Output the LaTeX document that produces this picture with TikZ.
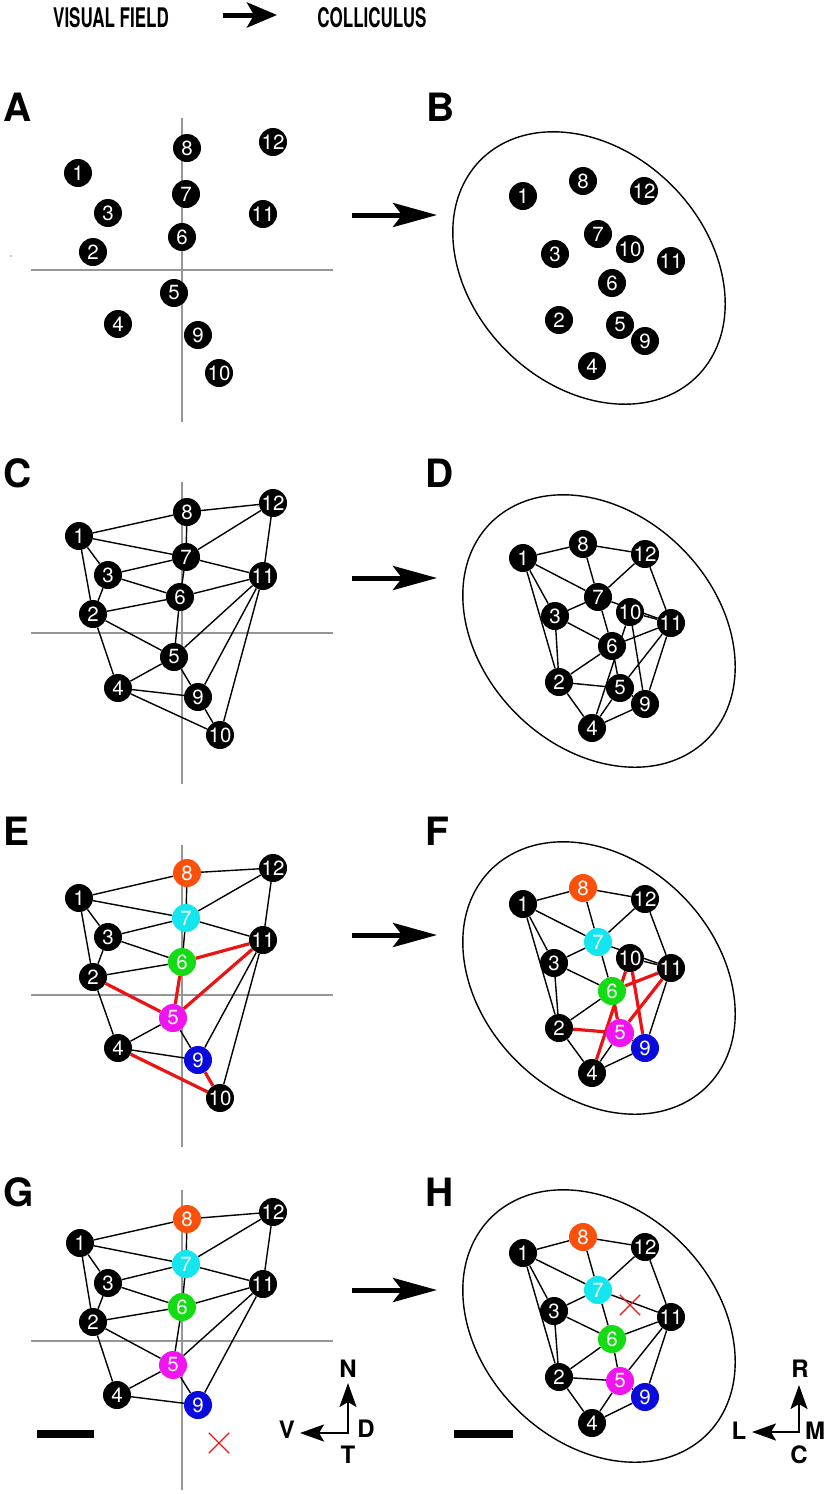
\documentclass[tikz,border=0pt]{standalone}
\usepackage{fontspec}
\usepackage{graphicx}
\setmainfont{TeX Gyre Heros}
\usetikzlibrary{arrows.meta,shapes.misc}
\definecolor{vorange}{RGB}{250,80,10}
\definecolor{vcyan}{RGB}{20,230,240}
\definecolor{vgreen}{RGB}{20,220,20}
\definecolor{vmag}{RGB}{240,20,240}
\definecolor{vblue}{RGB}{10,10,220}
\definecolor{vred}{RGB}{235,20,20}
\definecolor{axisgray}{RGB}{150,150,150}
\pgfdeclarelayer{bg}
\pgfsetlayers{bg,main}
\begin{document}
\begin{tikzpicture}[x=1pt,y=-1pt,
  dot/.style={circle,fill=black,minimum size=28pt,inner sep=0pt,text=white,font=\fontsize{20.5}{20.5}\selectfont},
  edge/.style={line width=1.4pt,black},
  redge/.style={line width=3.2pt,vred},
  axisline/.style={line width=2pt,axisgray},
  oval/.style={line width=1.4pt},
  panel/.style={font=\fontsize{39}{39}\selectfont\bfseries,anchor=base west,inner sep=0pt},
  titletext/.style={inner sep=0pt},
  bigarrow/.style={line width=5pt,-{Stealth[length=44pt,width=24pt,inset=9pt]}},
  titlearrow/.style={line width=5pt,-{Stealth[length=30pt,width=25pt,inset=7pt]}},
  comparrow/.style={line width=2.4pt,-{Stealth[length=24pt,width=17pt,inset=5pt]}},
  complab/.style={font=\fontsize{24}{24}\selectfont\bfseries,inner sep=0pt},
  xmark/.style={draw=vred,cross out,minimum size=19pt,inner sep=0pt,line width=1.3pt},
  scalebar/.style={line width=8pt}
]
\path[use as bounding box] (0,0) rectangle (826,1494);

% titles
\node[titletext] (tvf) at (111,18) {\scalebox{0.63}[1]{\fontsize{27}{27}\selectfont\bfseries VISUAL FIELD}};
\node[titletext] (tsc) at (372,18) {\scalebox{0.63}[1]{\fontsize{27}{27}\selectfont\bfseries COLLICULUS}};
\coordinate (ta0) at (223,15);
\coordinate (ta1) at (277,15);
\draw[titlearrow] (ta0) -- (ta1);

% panel letters
\node[panel] (lA) at (3,121) {A};
\node[panel] (lB) at (426,121) {B};
\node[panel] (lC) at (3,487) {C};
\node[panel] (lD) at (425,487) {D};
\node[panel] (lE) at (3,845) {E};
\node[panel] (lF) at (425,845) {F};
\node[panel] (lG) at (3,1206) {G};
\node[panel] (lH) at (425,1206) {H};

% axes
\begin{pgfonlayer}{bg}
\draw[axisline] (182,118) -- (182,422);
\draw[axisline] (31,270) -- (333,270);
\draw[axisline] (182,482) -- (182,784);
\draw[axisline] (31,633) -- (333,633);
\draw[axisline] (182,845) -- (182,1147);
\draw[axisline] (31,995) -- (333,995);
\draw[axisline] (182,1190) -- (182,1490);
\draw[axisline] (31,1341) -- (333,1341);
\end{pgfonlayer}
\fill[axisgray] (11,256) circle (0.8pt);

% ellipses
\draw[oval,rotate around={-45:(589,268)}] (589,268) ellipse [x radius=153pt,y radius=117pt];
\draw[oval,rotate around={-45:(599,631)}] (599,631) ellipse [x radius=153pt,y radius=117pt];
\draw[oval,rotate around={-45:(599,978)}] (599,978) ellipse [x radius=153pt,y radius=117pt];
\draw[oval,rotate around={-45:(599,1326)}] (599,1326) ellipse [x radius=153pt,y radius=117pt];

% panel A
\foreach \n/\x/\y in {1/78/173,2/93/252,3/108/213,4/118/324,5/174/293,6/182/237,7/186/194,8/187/148,9/198/335,10/219/373,11/263/214,12/273/142}
  \node[dot] (a\n) at (\x,\y) {\n};
% panel B
\foreach \n/\x/\y in {1/523/196,2/559/320,3/555/254,4/592/366,5/620/325,6/612/283,7/598/234,8/583/181,9/645/341,10/630/249,11/671/261,12/644/191}
  \node[dot] (b\n) at (\x,\y) {\n};
% panel C
\foreach \n/\x/\y in {1/79/536,2/93/614,3/108/575,4/118/688,5/174/657,6/180/597,7/186/557,8/187/512,9/198/697,10/220/735,11/263/576,12/273/503}
  \node[dot] (c\n) at (\x,\y) {\n};
% panel D
\foreach \n/\x/\y in {1/523/558,2/559/682,3/555/616,4/592/728,5/620/688,6/612/646,7/598/597,8/583/544,9/645/704,10/630/612,11/671/623,12/645/554}
  \node[dot] (d\n) at (\x,\y) {\n};
% panel E
\foreach \n/\x/\y/\c in {1/79/898/black,2/93/977/black,3/108/937/black,4/118/1048/black,5/173/1018/vmag,6/182/962/vgreen,7/186/918/vcyan,8/187/873/vorange,9/198/1060/vblue,10/220/1098/black,11/263/940/black,12/273/868/black}
  \node[dot,fill=\c] (e\n) at (\x,\y) {\n};
% panel F
\foreach \n/\x/\y/\c in {1/523/904/black,2/559/1028/black,3/554/963/black,4/592/1073/black,5/620/1033/vmag,6/612/991/vgreen,7/598/942/vcyan,8/583/888/vorange,9/645/1048/vblue,10/630/958/black,11/671/968/black,12/645/899/black}
  \node[dot,fill=\c] (f\n) at (\x,\y) {\n};
% panel G
\foreach \n/\x/\y/\c in {1/80/1243/black,2/93/1322/black,3/108/1283/black,4/117/1395/black,5/173/1365/vmag,6/182/1307/vgreen,7/186/1264/vcyan,8/187/1219/vorange,9/198/1405/vblue,11/263/1284/black,12/273/1212/black}
  \node[dot,fill=\c] (g\n) at (\x,\y) {\n};
% panel H
\foreach \n/\x/\y/\c in {1/523/1253/black,2/559/1377/black,3/554/1311/black,4/592/1423/black,5/620/1381/vmag,6/612/1339/vgreen,7/598/1290/vcyan,8/583/1237/vorange,9/645/1397/vblue,11/671/1317/black,12/645/1247/black}
  \node[dot,fill=\c] (h\n) at (\x,\y) {\n};

% edges
\begin{pgfonlayer}{bg}
\foreach \p/\q in {1/8,8/12,8/7,1/7,12/7,12/11,7/11,7/3,7/6,1/3,1/2,3/2,3/6,2/6,6/11,2/5,2/4,6/5,5/11,11/9,11/10,5/4,5/9,4/9,4/10,9/10}
  {\draw[edge] (c\p) -- (c\q); \draw[edge] (d\p) -- (d\q);}
\foreach \p/\q in {1/8,8/12,8/7,1/7,12/7,12/11,7/11,7/3,7/6,1/3,1/2,3/2,3/6,2/6,2/4,11/9,11/10,5/4,5/9,4/9}
  {\draw[edge] (e\p) -- (e\q); \draw[edge] (f\p) -- (f\q);}
\foreach \p/\q in {2/5,6/5,5/11,6/11,4/10,9/10}
  {\draw[redge] (e\p) -- (e\q); \draw[redge] (f\p) -- (f\q);}
\foreach \p/\q in {1/8,8/12,8/7,1/7,12/7,12/11,7/11,7/3,7/6,1/3,1/2,3/2,3/6,2/6,6/11,2/5,2/4,6/5,5/11,11/9,5/4,5/9,4/9}
  {\draw[edge] (g\p) -- (g\q); \draw[edge] (h\p) -- (h\q);}
\end{pgfonlayer}

% arrows between panels
\foreach \r/\y in {1/215,2/578,3/935,4/1290} {
  \coordinate (s\r) at (352,\y);
  \coordinate (t\r) at (437,\y);
  \draw[bigarrow] (s\r) -- (t\r);
}

% lesion marks
\node[xmark] (gx) at (219,1443) {};
\node[xmark] (hx) at (630,1305) {};

% scale bars
\coordinate (gs0) at (37,1434); \coordinate (gs1) at (94,1434);
\draw[scalebar] (gs0) -- (gs1);
\coordinate (hs0) at (454,1434); \coordinate (hs1) at (513,1434);
\draw[scalebar] (hs0) -- (hs1);

% compass G
\coordinate (gc) at (348,1433);
\coordinate (gcn) at (348,1383);
\coordinate (gcv) at (300,1433);
\draw[comparrow] ([yshift=-1.2pt]gc) -- (gcn);
\draw[comparrow] ([xshift=1.2pt]gc) -- (gcv);
\node[complab] (gN) at (348,1369) {N};
\node[complab] (gV) at (287,1430) {V};
\node[complab] (gD) at (366,1429) {D};
\node[complab] (gT) at (348,1455) {T};

% compass H
\coordinate (hc) at (799,1432);
\coordinate (hcr) at (799,1385);
\coordinate (hcl) at (752,1432);
\draw[comparrow] ([yshift=-1.2pt]hc) -- (hcr);
\draw[comparrow] ([xshift=1.2pt]hc) -- (hcl);
\node[complab] (hR) at (800,1369) {R};
\node[complab] (hL) at (739,1431) {L};
\node[complab] (hM) at (815,1431) {M};
\node[complab] (hC) at (799,1455) {C};
\end{tikzpicture}
\end{document}
